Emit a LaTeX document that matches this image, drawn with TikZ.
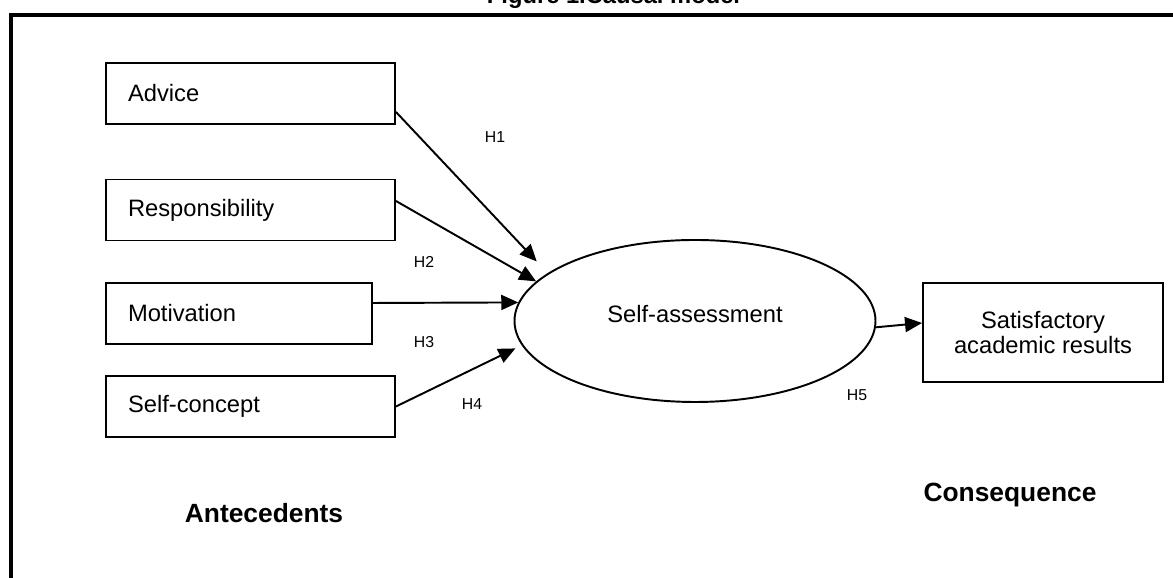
\documentclass[tikz,border=0pt]{standalone}
\usepackage{fontspec}
\setmainfont{Liberation Sans}
\usetikzlibrary{arrows.meta, positioning, calc, shapes.geometric}

\begin{document}
\begin{tikzpicture}[
  font=\fontsize{13.5}{16}\selectfont,
  factor/.style={draw,line width=1.1pt,rectangle,minimum height=1.22cm,
    inner xsep=0.44cm,align=left},
  hyp/.style={font=\fontsize{9}{10}\selectfont},
  causal/.style={-{Triangle[length=0.34cm,width=0.30cm]},line width=1.1pt},
  group/.style={font=\fontsize{15}{18}\selectfont\bfseries,anchor=base}]
  %% Scale: 1 unit = 50 px of the original figure

  \useasboundingbox (0,0) rectangle (23.46,11.56);

  % Title, cut by the top of the page
  \node[font=\fontsize{13.5}{16}\selectfont\bfseries,anchor=base]
    (title) at (12.27,11.48) {Figure 1.Causal model};

  % Frame: only top and left edges fall inside the page
  \draw[line width=2.3pt,line join=miter] (0.22,-0.5) -- (0.22,11.26) -- (24,11.26);

  % Antecedents (left column)
  \node[factor,text width=4.90cm] (advice) at (5.01,9.69) {Advice};
  \node[factor,text width=4.90cm] (resp)   at (5.01,7.36) {Responsibility};
  \node[factor,text width=4.44cm] (motiv)  at (4.78,5.29) {Motivation};
  \node[factor,text width=4.90cm] (selfc)  at (5.01,3.43) {Self-concept};

  % Mediator
  \node[ellipse,draw,line width=1.1pt,minimum width=7.22cm,minimum height=3.24cm,
    inner sep=0pt,text height=0.35cm,text depth=0.27cm]
    (selfa) at (13.90,5.14) {Self-assessment};

  % Consequence box
  \node[factor,minimum width=4.8cm,minimum height=1.98cm,align=center,
    inner xsep=0pt,font=\fontsize{13.5}{14.7}\selectfont]
    (results) at (20.86,4.91) {Satisfactory\\academic results};

  % Hypothesised paths
  \draw[causal,shorten >=0.32cm] ($(advice.east)+(0,-0.37)$) -- (selfa.162);
  \draw[causal] ($(resp.east)+(0,0.18)$) -- (selfa.166);
  \draw[causal] ($(motiv.east)+(0,0.21)$) -- (selfa.174);
  \draw[causal,shorten >=0.14cm] (selfc.east) -- (selfa.188);
  \draw[causal] (selfa.-2) -- ($(results.west)+(0,0.19)$);

  % Hypothesis labels
  \node[hyp] (h1) at (9.90,8.82) {H1};
  \node[hyp] (h2) at (8.48,6.32) {H2};
  \node[hyp] (h3) at (8.48,4.72) {H3};
  \node[hyp] (h4) at (9.44,3.48) {H4};
  \node[hyp] (h5) at (17.14,3.66) {H5};

  % Group captions
  \node[group] (ante)   at (5.28,1.10)  {Antecedents};
  \node[group] (conseq) at (20.20,1.52) {Consequence};
\end{tikzpicture}
\end{document}
